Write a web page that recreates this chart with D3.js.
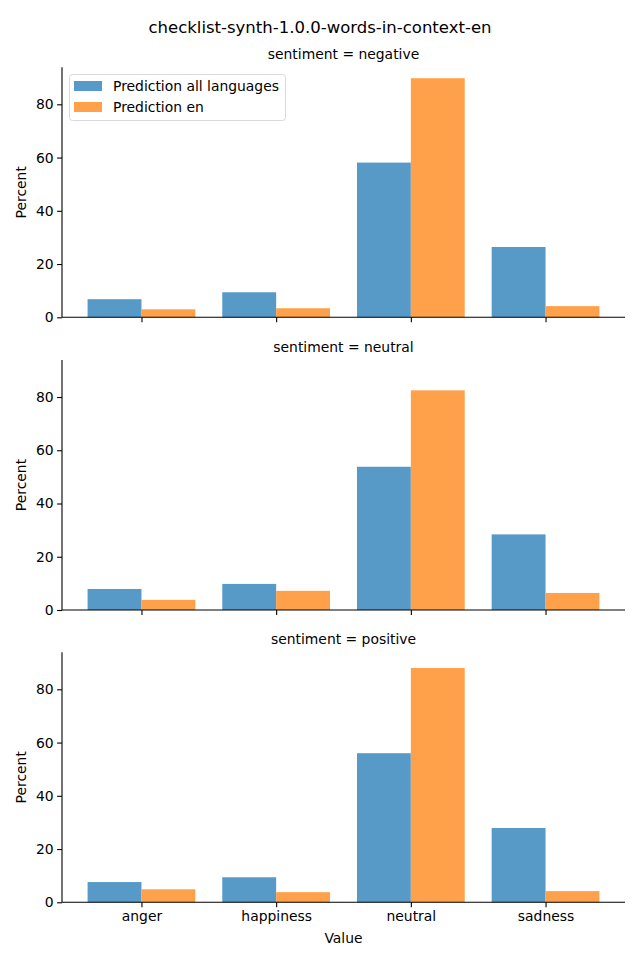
<!DOCTYPE html>
<html>
<head>
<meta charset="utf-8">
<script src="https://cdn.jsdelivr.net/npm/d3@7"></script>
<style>
  html, body { margin: 0; padding: 0; background: #fff; }
  svg { display: block; font-family: "DejaVu Sans", sans-serif; }
</style>
</head>
<body>
<svg id="chart" width="640" height="960"></svg>
<script>
const categories = ["anger", "happiness", "neutral", "sadness"];
const panels = ["negative", "neutral", "positive"];
const seriesNames = ["Prediction all languages", "Prediction en"];
// values per panel: [all languages, en]
const negativeAll = [6.8, 9.4, 58.1, 26.4];
const negativeEn  = [3.0, 3.4, 89.8, 4.2];
const neutralAll  = [7.9, 9.8, 53.8, 28.4];
const neutralEn   = [3.8, 7.2, 82.5, 6.4];
const positiveAll = [7.6, 9.4, 56.0, 27.9];
const positiveEn  = [4.9, 3.8, 88.0, 4.2];
const yTicks = [0, 20, 40, 60, 80];
const colors = ["#5799c7", "#ffa04a"];

const panelData = [
  [negativeAll, negativeEn],
  [neutralAll, neutralEn],
  [positiveAll, positiveEn]
];

const svg = d3.select("#chart");
const left = 62, right = 625;
const panelTops = [67.3, 360, 652.3];
const panelH = 250;

const x = d3.scaleLinear().domain([-0.59, 3.59]).range([left, right]);
const barW = 0.4;

svg.append("text")
  .attr("x", 320).attr("y", 33)
  .attr("text-anchor", "middle")
  .attr("font-size", "16.5px")
  .text("checklist-synth-1.0.0-words-in-context-en");

panels.forEach((p, pi) => {
  const top = panelTops[pi];
  const bottom = top + panelH;
  const y = d3.scaleLinear().domain([0, 93.9]).range([bottom, top]);
  const g = svg.append("g");

  // bars
  panelData[pi].forEach((vals, si) => {
    g.selectAll(null).data(vals).enter().append("rect")
      .attr("x", (d, i) => x(i - barW + si * barW))
      .attr("width", (d, i) => x(i + si * barW) - x(i - barW + si * barW))
      .attr("y", d => y(d))
      .attr("height", d => y(0) - y(d))
      .attr("fill", colors[si]);
  });

  // y axis
  const yAxis = d3.axisLeft(y).tickValues(yTicks).tickSize(4.9).tickPadding(3.5);
  const ya = g.append("g").attr("transform", `translate(${left},0)`).call(yAxis);
  ya.select(".domain").attr("stroke-width", 1.1).attr("d", `M-0,${top}V${bottom}`);
  ya.selectAll(".tick line").attr("stroke-width", 1.1);
  ya.selectAll(".tick text").attr("font-size", "13.9px").attr("font-family", "DejaVu Sans").attr("fill", "#000");

  // x axis
  const xAxis = d3.axisBottom(x).tickValues([0, 1, 2, 3])
    .tickFormat(pi === 2 ? (d => categories[d]) : (() => ""))
    .tickSize(4.9).tickPadding(3.5);
  const xa = g.append("g").attr("transform", `translate(0,${bottom})`).call(xAxis);
  xa.select(".domain").attr("stroke-width", 1.1).attr("d", `M${left},0H${right}`);
  xa.selectAll(".tick line").attr("stroke-width", 1.1);
  xa.selectAll(".tick text").attr("font-size", "13.9px").attr("font-family", "DejaVu Sans").attr("fill", "#000");

  // panel title
  g.append("text")
    .attr("x", (left + right) / 2).attr("y", top - 8)
    .attr("text-anchor", "middle")
    .attr("font-size", "13.9px")
    .text(`sentiment = ${p}`);

  // y label
  g.append("text")
    .attr("transform", `translate(26,${(top + bottom) / 2}) rotate(-90)`)
    .attr("text-anchor", "middle")
    .attr("font-size", "13.9px")
    .text("Percent");
});

// x label
svg.append("text")
  .attr("x", (left + right) / 2).attr("y", 943)
  .attr("text-anchor", "middle")
  .attr("font-size", "13.9px")
  .text("Value");

// legend
const lg = svg.append("g");
lg.append("rect")
  .attr("x", 69.5).attr("y", 74.5).attr("width", 216).attr("height", 46)
  .attr("rx", 3).attr("fill", "#fff").attr("fill-opacity", 0.8)
  .attr("stroke", "#d9d9d9").attr("stroke-width", 1);
seriesNames.forEach((n, i) => {
  lg.append("rect")
    .attr("x", 74).attr("y", 81 + i * 21).attr("width", 28).attr("height", 10)
    .attr("fill", colors[i]);
  lg.append("text")
    .attr("x", 113).attr("y", 91 + i * 21)
    .attr("font-size", "13.9px")
    .text(n);
});
</script>
</body>
</html>
